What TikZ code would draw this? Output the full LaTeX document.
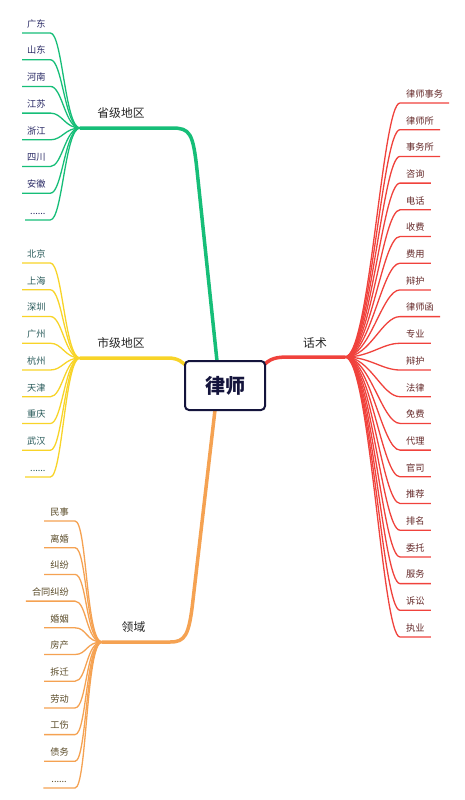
\documentclass[tikz,border=0pt]{standalone}
\usepackage{fontspec}
\setmainfont{Noto Sans CJK SC}
\usetikzlibrary{calc}
\definecolor{cG}{RGB}{22,190,120}
\definecolor{cY}{RGB}{248,212,40}
\definecolor{cO}{RGB}{245,162,82}
\definecolor{cR}{RGB}{240,66,60}
\definecolor{tG}{RGB}{40,40,100}
\definecolor{tY}{RGB}{40,90,90}
\definecolor{tO}{RGB}{90,75,40}
\definecolor{tR}{RGB}{100,40,40}
\definecolor{navy}{RGB}{20,20,60}
\begin{document}
\begin{tikzpicture}[x=1pt,y=-1pt,
  leaf/.style={inner xsep=5pt, inner ysep=0pt, text height=8pt, text depth=5.5pt,
     font=\fontsize{9.2}{10}\selectfont},
  leafG/.style={leaf, text=tG, text width=18pt, align=left},
  leafY/.style={leaf, text=tY, text width=18pt, align=left},
  leafO/.style={leaf, text=tO, inner xsep=6pt},
  leafR/.style={leaf, text=tR, inner xsep=6pt},
  linkG/.style={draw=cG, line width=1.3pt},
  linkY/.style={draw=cY, line width=1.3pt},
  linkO/.style={draw=cO, line width=1.3pt},
  linkR/.style={draw=cR, line width=1.3pt},
  mainG/.style={draw=cG, line width=3.5pt, line cap=round},
  mainY/.style={draw=cY, line width=3.5pt, line cap=round},
  mainO/.style={draw=cO, line width=3.5pt, line cap=round},
  mainR/.style={draw=cR, line width=3.5pt, line cap=round},
  lbl/.style={font=\fontsize{11.8}{13}\selectfont, text=black!85, inner sep=0pt},
  centerbox/.style={draw=navy, line width=2pt, rounded corners=4pt, fill=white,
     minimum width=80pt, minimum height=49pt, text=navy,
     font=\fontsize{20}{22}\selectfont\bfseries}
]
\fill[white] (0,0) rectangle (464,800);
\useasboundingbox (0,0) rectangle (464,800);

% junctions
\coordinate (gJ) at (80,128);
\coordinate (yJ) at (80,358);
\coordinate (oJ) at (102,642);
\coordinate (rJ) at (345,357);

% main branches (drawn before box)
\draw[mainG] (217,361) -- (197,170) .. controls (193,133) and (190,128) .. (172,128) -- (gJ);
\draw[mainY] (yJ) -- (168,358) .. controls (178,358) and (183,362) .. (188,368);
\draw[mainO] (215,410) -- (193,600) .. controls (189,636) and (185,642) .. (170,642) -- (oJ);
\draw[mainR] (262,367) .. controls (270,358) and (276,357) .. (290,357) -- (rJ);

\node[centerbox] (box) at (225,385.5) {律师};

% labels
\node[lbl] (lg) at (121,113) {省级地区};
\node[lbl] (ly) at (121,343) {市级地区};
\node[lbl] (lo) at (133.5,627) {领域};
\node[lbl] (lr) at (315,343) {话术};

% green leaves
\foreach \t [count=\i] in {广东,山东,河南,江苏,浙江,四川,安徽} {
  \node[leafG, anchor=south west] (g\i) at (22,{33+26.7*(\i-1)}) {\t};
  \draw[linkG] (gJ) .. controls +(-15,0) and +(12,0) .. (g\i.south east) -- (g\i.south west);
}
\node[leafG, anchor=south west, text width=15pt] (g8) at (25,219.9) {......};
\draw[linkG] (gJ) .. controls +(-15,0) and +(12,0) .. (g8.south east) -- (g8.south west);

% yellow leaves
\foreach \t [count=\i] in {北京,上海,深圳,广州,杭州,天津,重庆,武汉} {
  \node[leafY, anchor=south west] (y\i) at (22,{263+26.75*(\i-1)}) {\t};
  \draw[linkY] (yJ) .. controls +(-15,0) and +(12,0) .. (y\i.south east) -- (y\i.south west);
}
\node[leafY, anchor=south west, text width=15pt] (y9) at (25,477) {......};
\draw[linkY] (yJ) .. controls +(-15,0) and +(12,0) .. (y9.south east) -- (y9.south west);

% orange leaves
\foreach \t [count=\i] in {民事,离婚,纠纷,合同纠纷,婚姻,房产,拆迁,劳动,工伤,债务} {
  \node[leafO, anchor=south east] (o\i) at (75,{521+26.7*(\i-1)}) {\t};
  \draw[linkO] (oJ) .. controls +(-16,0) and +(12,0) .. (o\i.south east) -- (o\i.south west);
}
\node[leafO, anchor=south east, inner xsep=8pt] (o11) at (75,788) {......};
\draw[linkO] (oJ) .. controls +(-16,0) and +(12,0) .. (o11.south east) -- (o11.south west);

% red leaves
\foreach \t [count=\i] in {律师事务,律师所,事务所,咨询,电话,收费,费用,辩护,律师函,专业,辩护,法律,免费,代理,官司,推荐,排名,委托,服务,诉讼,执业} {
  \node[leafR, anchor=south west] (r\i) at (400,{103+26.7*(\i-1)}) {\t};
  \draw[linkR] (rJ) .. controls +(25,0) and +(-18,0) .. (r\i.south west) -- (r\i.south east);
}
\end{tikzpicture}
\end{document}
